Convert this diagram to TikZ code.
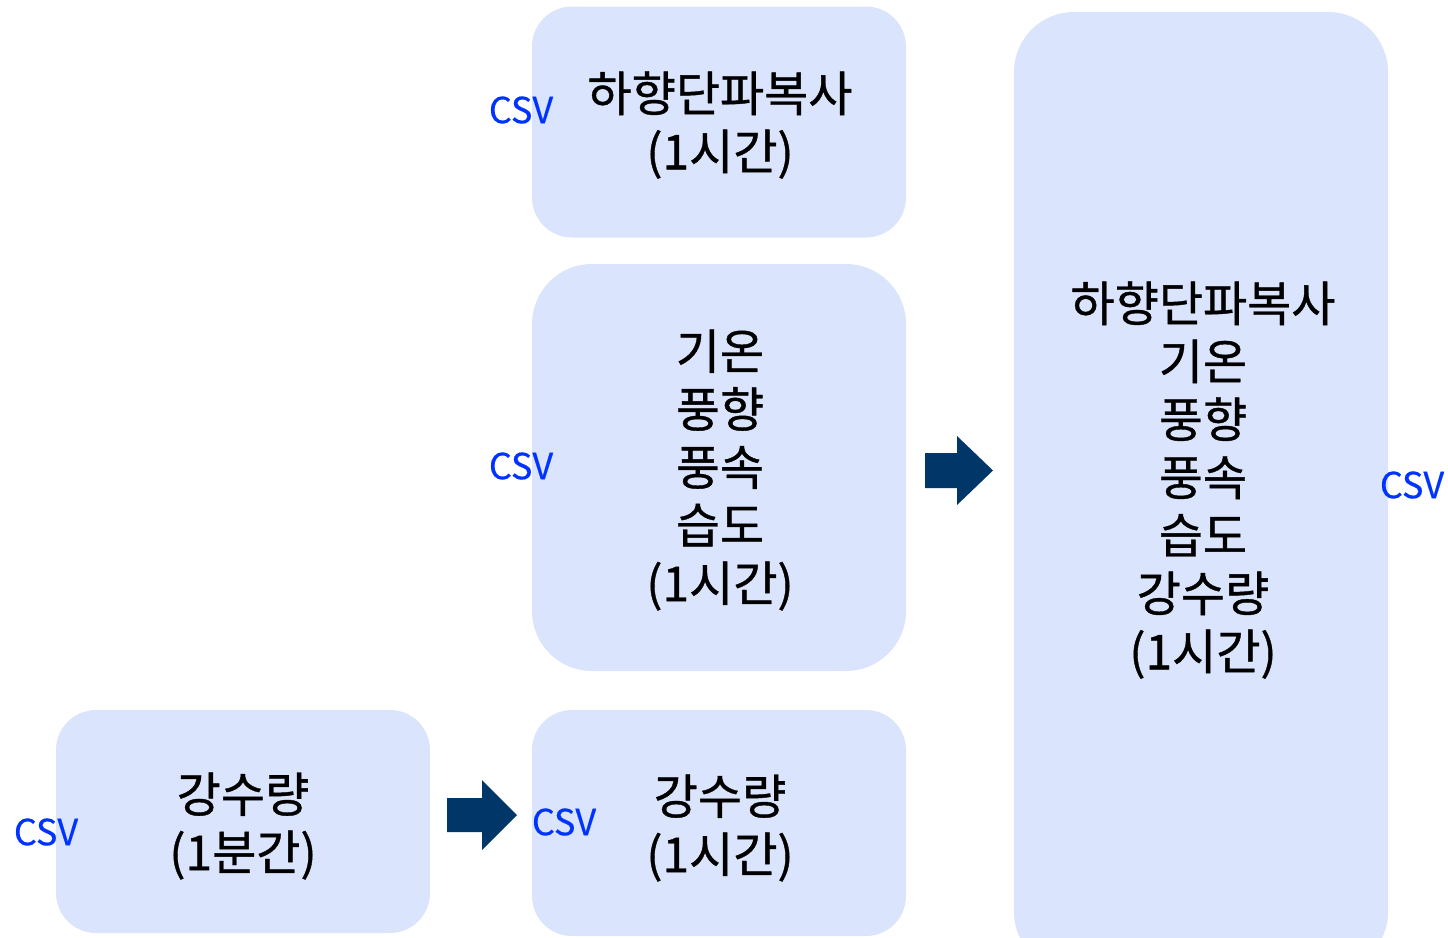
\documentclass[tikz,border=0pt]{standalone}
\usepackage{fontspec}
\setmainfont{Noto Sans CJK KR}
\newfontfamily\boxfont[FakeBold=0.8]{Noto Sans CJK KR}
\newfontfamily\csvfont[FakeBold=0.4]{Noto Sans CJK KR}
\definecolor{boxfill}{RGB}{218,228,252}
\definecolor{arrownavy}{RGB}{0,55,104}
\definecolor{csvblue}{RGB}{0,51,255}
\tikzset{
  databox/.style={fill=boxfill, draw=none, inner sep=0pt, align=center,
    font=\boxfont\fontsize{48}{58}\selectfont},
  csvlabel/.style={text=csvblue, inner sep=0pt, font=\csvfont\fontsize{36}{36}\selectfont},
  blockarrow/.style={fill=arrownavy, draw=none}
}
\begin{document}
\begin{tikzpicture}[x=1pt,y=-1pt]
\useasboundingbox (0,0) rectangle (1448,937);
% boxes
\node[databox, minimum width=374pt, minimum height=231pt, rounded corners=40pt] (top) at (719,122) {};
\node[databox, minimum width=374pt, minimum height=407pt, rounded corners=60pt] (mid) at (719,467.5) {};
\node[databox, minimum width=374pt, minimum height=226pt, rounded corners=40pt] (bot) at (719,823) {};
\node[databox, minimum width=374pt, minimum height=223pt, rounded corners=40pt] (left) at (243,821.5) {};
\node[databox, minimum width=374pt, minimum height=960pt, rounded corners=60pt] (right) at (1201,492) {};
% texts
\node[databox, fill=none] (toptext) at (720,125) {하향단파복사\\(1시간)};
\node[databox, fill=none] (midtext) at (720,470) {기온\\풍향\\풍속\\습도\\(1시간)};
\node[databox, fill=none] (bottext) at (720,828) {강수량\\(1시간)};
\node[databox, fill=none] (lefttext) at (243,826) {강수량\\(1분간)};
\node[databox, fill=none] (righttext) at (1203,480) {하향단파복사\\기온\\풍향\\풍속\\습도\\강수량\\(1시간)};
% csv labels
\node[csvlabel] (csv1) at (521,110) {CSV};
\node[csvlabel] (csv2) at (521,466) {CSV};
\node[csvlabel] (csv3) at (564,822) {CSV};
\node[csvlabel] (csv4) at (46,832) {CSV};
\node[csvlabel] (csv5) at (1412,485) {CSV};
% block arrows
\fill[blockarrow] (447,798) -- (482,798) -- (482,780) -- (517,815) -- (482,850) -- (482,832) -- (447,832) -- cycle;
\fill[blockarrow] (925,453) -- (957,453) -- (957,436) -- (993,470.5) -- (957,505) -- (957,488) -- (925,488) -- cycle;
\end{tikzpicture}
\end{document}
